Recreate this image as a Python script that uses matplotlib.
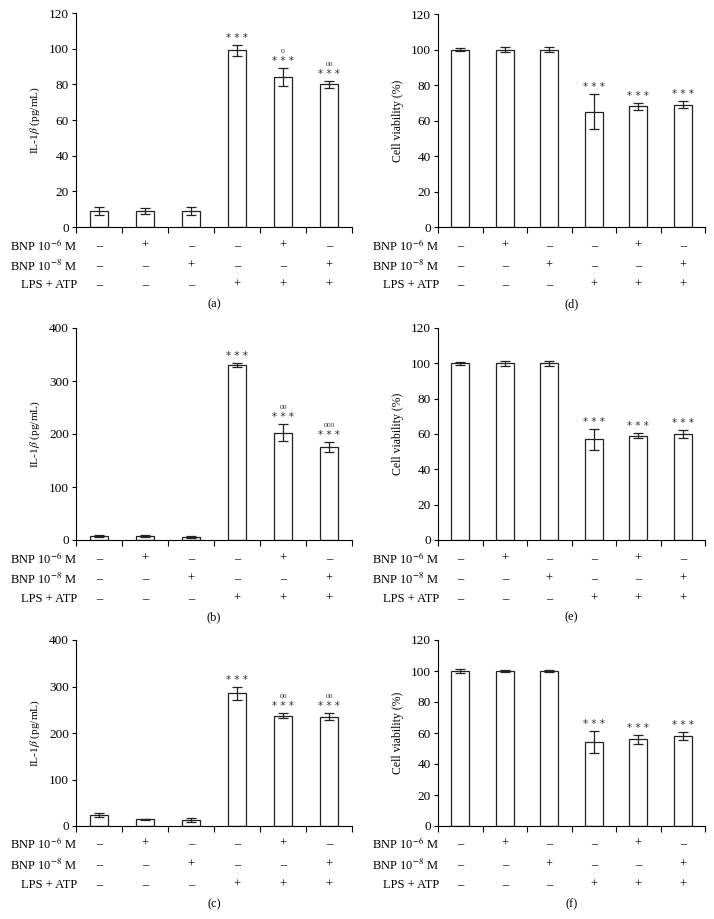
import matplotlib
matplotlib.use("Agg")
import matplotlib.pyplot as plt

plt.rcParams['font.family'] = ['Liberation Serif', 'DejaVu Serif']
plt.rcParams['mathtext.fontset'] = 'stix'

# ====== DATA ======
row_names = ["BNP 10$^{-6}$ M", "BNP 10$^{-8}$ M", "LPS + ATP"]
bnp6 = ["\u2013", "+", "\u2013", "\u2013", "+", "\u2013"]
bnp8 = ["\u2013", "\u2013", "+", "\u2013", "\u2013", "+"]
lps_atp = ["\u2013", "\u2013", "\u2013", "+", "+", "+"]

il_a = [9, 9, 9, 99, 84, 80]
il_a_err = [2, 1.7, 2, 3, 5, 2]
il_b = [8, 7, 6, 330, 202, 175]
il_b_err = [1.5, 1.5, 1.5, 4, 16, 9]
il_c = [24, 14, 13, 285, 237, 235]
il_c_err = [4, 2, 4, 14, 5, 7]

via_d = [100, 100, 100, 65, 68, 69]
via_d_err = [1, 1.3, 1.3, 10, 2, 2]
via_e = [100, 100, 100, 57, 59, 60]
via_e_err = [1, 1.3, 1.3, 6, 1.3, 2]
via_f = [100, 100, 100, 54, 56, 58]
via_f_err = [1, 0.8, 0.5, 7, 3, 2.5]

stars_abc = ["", "", "", "* * *", "* * *", "* * *"]
circ_a = ["", "", "", "", "o", "oo"]
circ_b = ["", "", "", "", "oo", "ooo"]
circ_c = ["", "", "", "", "oo", "oo"]
circ_none = ["", "", "", "", "", ""]
# ==================

W, H = 714, 919
fig = plt.figure(figsize=(W / 100, H / 100), dpi=100)


def add_axes(x0, x1, ytop, yzero):
    return fig.add_axes([x0 / W, 1 - yzero / H, (x1 - x0) / W, (yzero - ytop) / H])


def panel(ax, vals, errs, ymax, ystep, ylabel, ylsize, stars, circles, letter, rows_dy):
    x = list(range(len(vals)))
    ax.bar(x, vals, width=0.4, color="white", edgecolor="#222222", linewidth=0.9,
           yerr=errs, capsize=3.5, error_kw=dict(ecolor="#222222", elinewidth=0.9, capthick=0.9))
    ax.set_xlim(-0.5, 5.5)
    ax.set_ylim(0, ymax)
    ax.set_yticks(range(0, ymax + 1, ystep))
    ax.set_xticks([i - 0.5 for i in range(7)])
    ax.set_xticklabels([])
    ax.tick_params(axis="y", direction="out", length=3, width=0.8, labelsize=9.5, pad=2)
    ax.tick_params(axis="x", direction="out", length=4, width=0.8)
    for s in ["top", "right"]:
        ax.spines[s].set_visible(False)
    for s in ["left", "bottom"]:
        ax.spines[s].set_linewidth(0.8)
    ax.set_ylabel(ylabel, fontsize=ylsize, labelpad=5)

    for i, v in enumerate(vals):
        top = v + errs[i]
        if stars[i]:
            ax.annotate(stars[i], (i, top), xytext=(0, 2), textcoords="offset pixels",
                        ha="center", va="bottom", fontsize=7.5, family="DejaVu Sans",
                        color="#333333")
        if circles[i]:
            ax.annotate(circles[i], (i, top), xytext=(0, 13), textcoords="offset pixels",
                        ha="center", va="bottom", fontsize=5.5, color="#333333")

    rows = [bnp6, bnp8, lps_atp]
    for r, (name, signs) in enumerate(zip(row_names, rows)):
        ax.annotate(name, (-0.5, 0), xytext=(1, -rows_dy[r]), textcoords="offset pixels",
                    ha="right", va="center", fontsize=9, annotation_clip=False)
        for i, sg in enumerate(signs):
            ax.annotate(sg, (i, 0), xytext=(0, -rows_dy[r]), textcoords="offset pixels",
                        ha="center", va="center", fontsize=9, annotation_clip=False)
    ax.annotate(letter, (2.5, 0), xytext=(0, -rows_dy[3]), textcoords="offset pixels",
                ha="center", va="center", fontsize=9, annotation_clip=False)


il_label = "IL-1$\\beta$ (pg/mL)"
via_label = "Cell viability (%)"

ax_a = add_axes(76, 352, 13, 227)
panel(ax_a, il_a, il_a_err, 120, 20, il_label, 8.2, stars_abc, circ_a, "(a)", [19, 39, 58, 77])
ax_b = add_axes(76, 352, 328, 540)
panel(ax_b, il_b, il_b_err, 400, 100, il_label, 8.2, stars_abc, circ_b, "(b)", [19, 39, 59, 77])
ax_c = add_axes(76, 352, 640, 826)
panel(ax_c, il_c, il_c_err, 400, 100, il_label, 8.2, stars_abc, circ_c, "(c)", [18, 39, 59, 78])

ax_d = add_axes(438, 705, 14, 227)
panel(ax_d, via_d, via_d_err, 120, 20, via_label, 8.5, stars_abc, circ_none, "(d)", [19, 39, 58, 77])
ax_e = add_axes(438, 705, 328, 540)
panel(ax_e, via_e, via_e_err, 120, 20, via_label, 8.5, stars_abc, circ_none, "(e)", [19, 39, 59, 77])
ax_f = add_axes(438, 705, 640, 826)
panel(ax_f, via_f, via_f_err, 120, 20, via_label, 8.5, stars_abc, circ_none, "(f)", [18, 39, 59, 78])

fig.savefig("out.png", dpi=100)
